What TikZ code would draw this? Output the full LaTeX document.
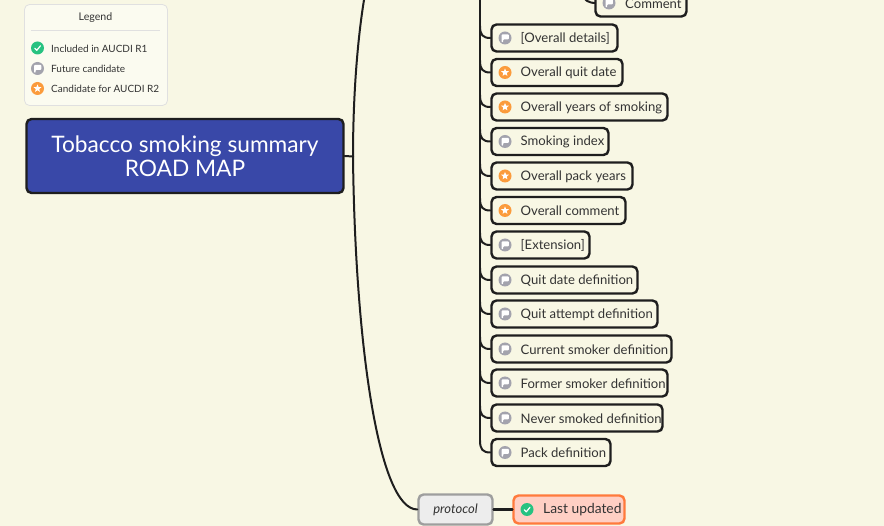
\documentclass[tikz,border=0pt]{standalone}
\usepackage{fontspec}
\setmainfont{Lato}
\usetikzlibrary{shapes.geometric}
\definecolor{bgc}{HTML}{F8F7E4}
\definecolor{lineC}{HTML}{1E1E1E}
\definecolor{txtC}{HTML}{333333}
\definecolor{rootC}{HTML}{3948A8}
\definecolor{greenC}{HTML}{27C281}
\definecolor{greyC}{HTML}{A3A3AD}
\definecolor{orangeC}{HTML}{FB9B3C}
\definecolor{lastFill}{HTML}{FFCFC4}
\definecolor{lastLine}{HTML}{FF7A3C}
\tikzset{
 x=1pt,y=-1pt,
 leafbox/.style={draw=lineC,line width=2.4pt,rounded corners=5pt,fill=bgc,inner sep=0pt},
 leaftext/.style={anchor=west,inner sep=0pt,text=txtC,font=\fontsize{13.1}{16}\selectfont},
 legtext/.style={anchor=west,inner sep=0pt,text=txtC,font=\fontsize{10}{12}\selectfont},
 conn/.style={draw=lineC,line width=2pt,line cap=round},
 dot/.style={circle,inner sep=0pt,minimum size=#1},
}
% \iconA{name}{x}{y}{size}
\newcommand{\iconA}[4]{%
 \node[dot=#4 pt,fill=greenC] (#1) at (#2,#3) {};
 \begin{scope}[shift={(#2,#3)},scale=#4/13]
 \draw[white,line width=1.2pt,line cap=round,line join=round] (-2.8,0.2) -- (-0.7,2.3) -- (3,-2.2);
 \end{scope}}
\newcommand{\iconB}[4]{%
 \node[dot=#4 pt,fill=greyC] (#1) at (#2,#3) {};
 \begin{scope}[shift={(#2,#3)},scale=#4/13]
 \fill[white,rounded corners=.8pt] (-3.4,4.2) -- (-3.4,-3.6) -- (3.8,-3.6) -- (3.8,1.4) -- (-1.8,1.4) -- (-1.8,4.2) -- cycle;
 \end{scope}}
\newcommand{\iconC}[4]{%
 \node[dot=#4 pt,fill=orangeC] (#1) at (#2,#3) {};
 \node[star,star points=5,star point ratio=2.2,fill=white,inner sep=0pt,minimum size=.62*#4 pt] (#1s) at (#2,#3) {};}
% \leaf{name}{right edge}{y}{icon macro}{text}
\newcommand{\leaf}[5]{%
 \node[leafbox,minimum width={(#2-492)*1pt},minimum height=27pt] (#1) at ({(492+#2-1)/2},#3) {};
 #4{#1i}{505}{#3}{13}
 \node[leaftext] (#1t) at (520.5,#3+.5) {#5};
 \coordinate (#1j) at (480,#3-12);
 \draw[conn] (#1j) .. controls (480,#3-3) and (483,#3) .. (#1.west);
}
\begin{document}
\begin{tikzpicture}
\useasboundingbox (0,0) rectangle (884,526);
\clip (0,0) rectangle (884,526);
\fill[bgc] (0,0) rectangle (884,526);
% legend
\node[draw=black!12,line width=.8pt,rounded corners=5pt,fill=white!45!bgc,minimum width=143pt,minimum height=101pt,inner sep=0pt] (legend) at (96,55) {};
\node[inner sep=0pt,text=txtC,font=\fontsize{10.6}{12}\selectfont] (legendT) at (95.5,17.6) {Legend};
\coordinate (ruleL) at (31,30); \coordinate (ruleR) at (160,30);
\draw[black!12,line width=.8pt] (ruleL) -- (ruleR);
\iconA{la}{37.5}{48}{13}
\node[legtext] (lat) at (51,48.6) {Included in AUCDI R1};
\iconB{lb}{37.5}{68.5}{13}
\node[legtext] (lbt) at (51,68.8) {Future candidate};
\iconC{lc}{37.5}{88.5}{13}
\node[legtext] (lct) at (51,89) {Candidate for AUCDI R2};
% root
\node[draw=lineC,line width=2.4pt,rounded corners=5pt,fill=rootC,minimum width=317pt,minimum height=74pt,inner sep=0pt,text=white,align=center,font=\fontsize{22.7}{24.5}\selectfont] (root) at (185,156) {Tobacco smoking summary\\ROAD MAP};
% main connectors
\coordinate (hub) at (353,156.5);
\coordinate (topEnd) at (365,-6);
\coordinate (trunkTop) at (480,-6);
\coordinate (cmtTop) at (582,-6);
\draw[conn] (root.east) -- (hub);
\draw[conn] (topEnd) .. controls (357,40) and (353,100) .. (hub);
% protocol
\node[draw=black!38,line width=2.4pt,rounded corners=5pt,fill=black!7,minimum width=74pt,minimum height=30pt,inner sep=0pt,text=txtC,font=\itshape\fontsize{13}{14}\selectfont] (protocol) at (455.5,509.5) {protocol};
\node[draw=lastLine,line width=2.4pt,rounded corners=5pt,fill=lastFill,minimum width=111pt,minimum height=28pt,inner sep=0pt] (last) at (569,509.5) {};
\iconA{lasti}{527}{509.5}{13}
\node[leaftext,font=\fontsize{13.8}{16}\selectfont] (lastt) at (543,510) {Last updated};
\draw[conn] (hub) .. controls (355,340) and (378,509.5) .. (protocol.west);
\draw[conn,line width=2.8pt] (protocol.east) -- (last.west);
% trunk
\draw[conn] (trunkTop) -- (480,441);
% comment
\draw[conn] (cmtTop) .. controls (584,0) and (588,3) .. (596,3);
\node[leafbox,minimum width=91pt,minimum height=27pt] (comment) at (641,3) {};
\iconB{cmti}{609}{3}{13}
\node[leaftext] (cmtt) at (625,3.5) {Comment};
% leaves
\leaf{a}{618}{38}{\iconB}{[Overall details]}
\leaf{b}{623}{72.5}{\iconC}{Overall quit date}
\leaf{c}{668}{107}{\iconC}{Overall years of smoking}
\leaf{d}{609}{141.5}{\iconB}{Smoking index}
\leaf{e}{633}{176}{\iconC}{Overall pack years}
\leaf{f}{626}{210.5}{\iconC}{Overall comment}
\leaf{g}{590}{245}{\iconB}{[Extension]}
\leaf{h}{638}{280}{\iconB}{Quit date definition}
\leaf{i}{658}{314}{\iconB}{Quit attempt definition}
\leaf{j}{672}{349}{\iconB}{Current smoker definition}
\leaf{k}{668}{383}{\iconB}{Former smoker definition}
\leaf{l}{663}{418}{\iconB}{Never smoked definition}
\leaf{m}{611}{452.5}{\iconB}{Pack definition}
\end{tikzpicture}
\end{document}
